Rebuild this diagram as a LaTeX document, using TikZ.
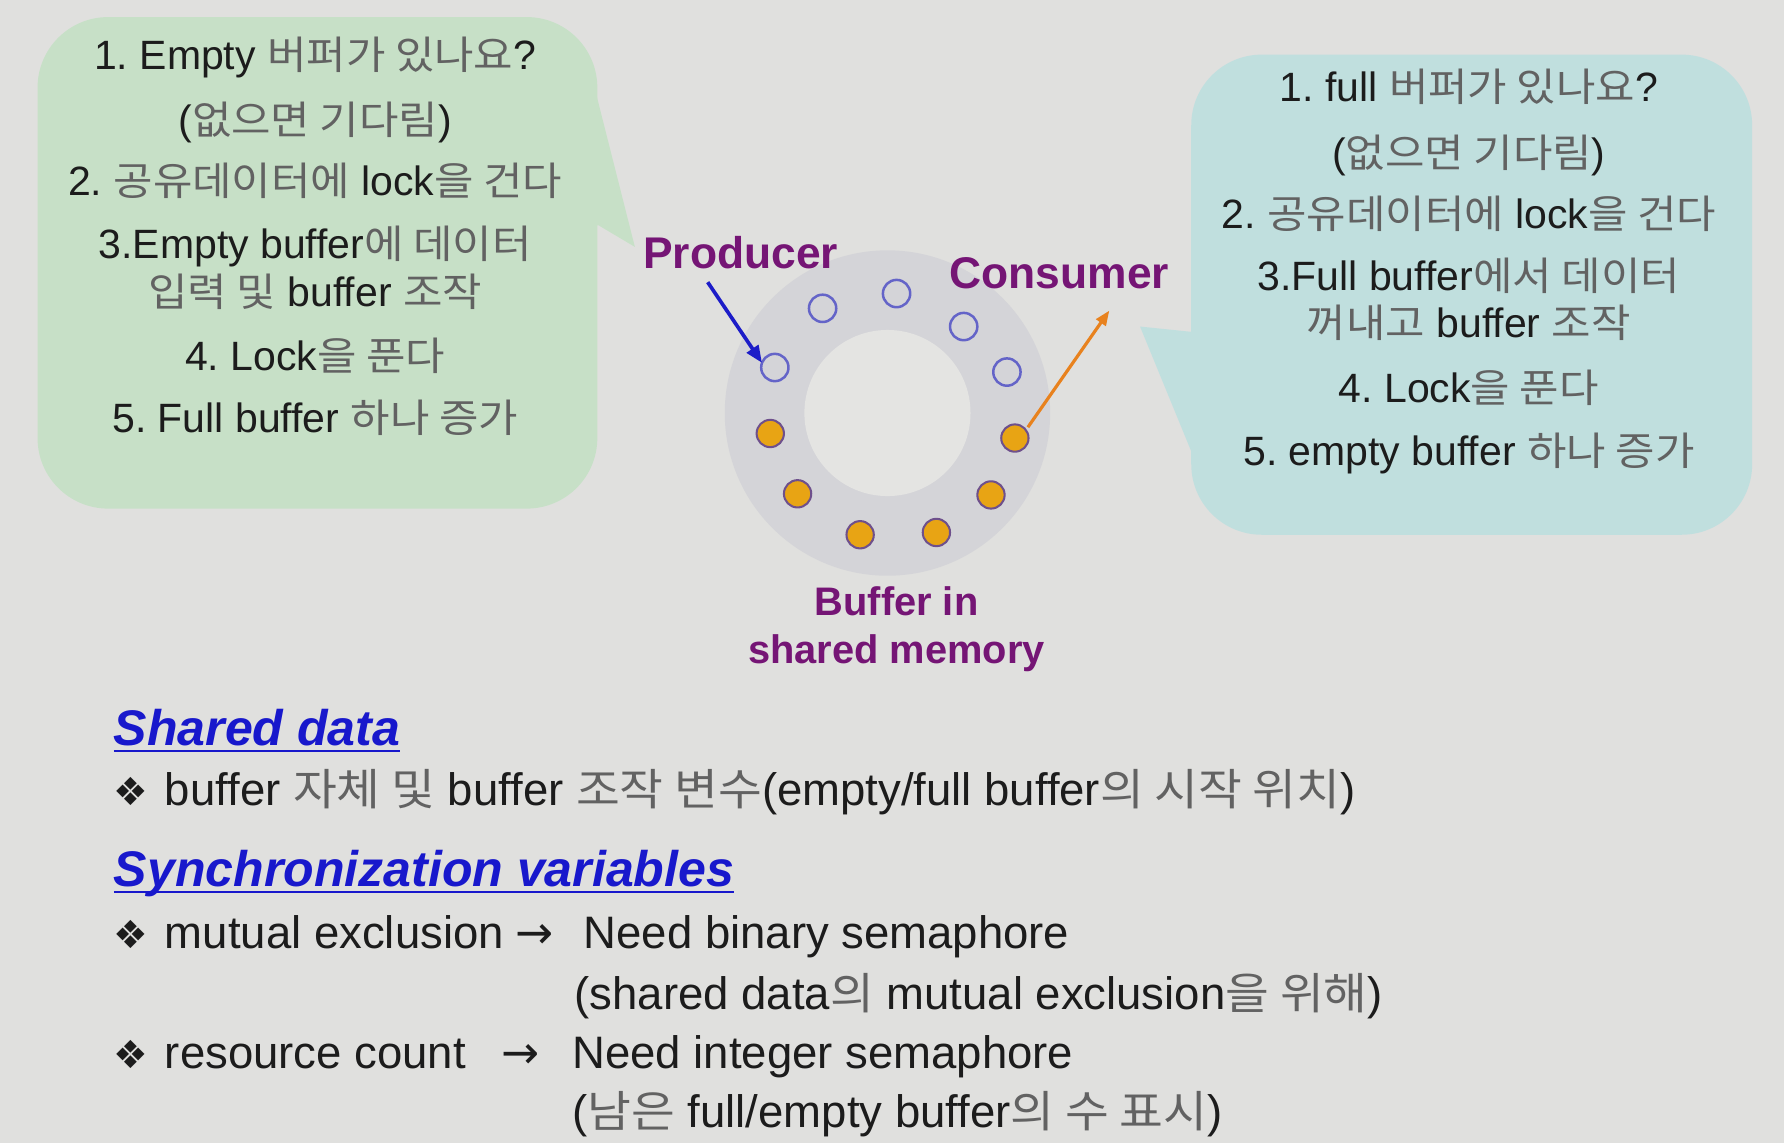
\documentclass[tikz,border=0pt]{standalone}
\usepackage{fontspec}
\setmainfont{Liberation Sans}
\newfontfamily\krfont{Noto Sans CJK KR}[Scale=0.96,FakeStretch=1.09]
\newfontfamily\symfont{DejaVu Sans}
\usetikzlibrary{arrows.meta}
\definecolor{bg}{HTML}{E0E0DE}
\definecolor{greenbox}{HTML}{C7E0C7}
\definecolor{cyanbox}{HTML}{C0DFDE}
\definecolor{ringgray}{HTML}{D4D4D8}
\definecolor{innerc}{HTML}{E4E4E2}
\definecolor{dotblue}{HTML}{6464C8}
\definecolor{dotorange}{HTML}{E8A414}
\definecolor{dotedge}{HTML}{6E508C}
\definecolor{purp}{HTML}{751575}
\definecolor{headblue}{HTML}{1818CC}
\definecolor{arrblue}{HTML}{1C1CC8}
\definecolor{arrorange}{HTML}{E8821E}
\definecolor{txt}{HTML}{1C1C1C}
\definecolor{krgray}{HTML}{626262}
\newcommand{\hangul}[1]{{\krfont\color{krgray}#1}}
\frenchspacing
\begin{document}
\begin{tikzpicture}[x=1pt,y=-1pt,
  every node/.style={inner sep=0pt,outer sep=0pt},
  calltext/.style={anchor=base,text=txt,font=\fontsize{36}{43}\selectfont},
  bodytext/.style={anchor=base west,text=txt,font=\fontsize{40}{48}\selectfont},
  arrowsym/.style={anchor=base west,text=txt,font=\symfont\fontsize{40}{48}\selectfont},
  bulletsym/.style={anchor=base west,text=txt,font=\symfont\fontsize{34}{40}\selectfont},
  heading/.style={anchor=base west,text=headblue,font=\bfseries\itshape\fontsize{44}{52}\selectfont},
  uline/.style={draw=headblue,line width=2.5pt},
  bigpurple/.style={anchor=base,text=purp,font=\bfseries\fontsize{39}{46}\selectfont},
  smallpurple/.style={anchor=base,text=purp,font=\bfseries\fontsize{35}{42}\selectfont},
  emptydot/.style={circle,minimum size=24pt,draw=dotblue,line width=2.2pt,fill=ringgray},
  fulldot/.style={circle,minimum size=24pt,draw=dotedge,line width=1.8pt,fill=dotorange},
  prodarrow/.style={draw=arrblue,line width=3.2pt,-{Triangle[length=15pt,width=12pt]}},
  consarrow/.style={draw=arrorange,line width=2.8pt,-{Triangle[length=13pt,width=10pt]}}
]
\useasboundingbox (0,0) rectangle (1568,1005);
\fill[bg] (0,0) rectangle (1568,1005);

% left callout
\fill[greenbox,rounded corners=62pt] (33,15) rectangle (525,447);
\fill[greenbox] (500,80) -- (518,59) -- (558,217) -- (526,198) -- (500,198) -- cycle;
% right callout
\fill[cyanbox,rounded corners=62pt] (1047,48) rectangle (1540,470);
\fill[cyanbox] (1070,294) -- (1002,287) -- (1050,404) -- (1070,404) -- cycle;

% left callout text
\node[calltext] (l1) at (277,61) {1. Empty \hangul{버퍼가 있나요}?};
\node[calltext] (l2) at (277,118) {(\hangul{없으면 기다림})};
\node[calltext] (l3) at (277,172) {2. \hangul{공유데이터에} lock\hangul{을 건다}};
\node[calltext] (l4) at (277,227) {3.Empty buffer\hangul{에 데이터}};
\node[calltext] (l5) at (277,269) {\hangul{입력 및} buffer \hangul{조작}};
\node[calltext] (l6) at (277,326) {4. Lock\hangul{을 푼다}};
\node[calltext] (l7) at (277,380) {5. Full buffer \hangul{하나 증가}};

% right callout text
\node[calltext] (r1) at (1291,89) {1. full \hangul{버퍼가 있나요}?};
\node[calltext] (r2) at (1291,147) {(\hangul{없으면 기다림})};
\node[calltext] (r3) at (1291,201) {2. \hangul{공유데이터에} lock\hangul{을 건다}};
\node[calltext] (r4) at (1291,255) {3.Full buffer\hangul{에서 데이터}};
\node[calltext] (r5) at (1291,297) {\hangul{꺼내고} buffer \hangul{조작}};
\node[calltext] (r6) at (1291,354) {4. Lock\hangul{을 푼다}};
\node[calltext] (r7) at (1291,409) {5. empty buffer \hangul{하나 증가}};

% ring buffer
\node[circle,fill=ringgray,minimum size=286pt] (ring) at (780,363) {};
\node[circle,fill=innerc,minimum size=146pt] (hole) at (780,363) {};
\node[emptydot] (e1) at (681,323) {};
\node[emptydot] (e2) at (723,271) {};
\node[emptydot] (e3) at (788,258) {};
\node[emptydot] (e4) at (847,287) {};
\node[emptydot] (e5) at (885,327) {};
\node[fulldot] (f1) at (677,381) {};
\node[fulldot] (f2) at (701,434) {};
\node[fulldot] (f3) at (756,470) {};
\node[fulldot] (f4) at (823,468) {};
\node[fulldot] (f5) at (871,435) {};
\node[fulldot] (f6) at (892,385) {};

% labels
\node[bigpurple] (prod) at (651,236) {Producer};
\node[bigpurple] (cons) at (931,254) {Consumer};
\node[smallpurple] (buf1) at (788,541) {Buffer in};
\node[smallpurple] (buf2) at (788,583) {shared memory};

% arrows
\coordinate (pstart) at (622,248);
\coordinate (cend) at (975,273);
\draw[prodarrow] (pstart) -- (e1.160);
\draw[consarrow,shorten <=3pt] (f6.36) -- (cend);

% bottom section
\node[heading] (sd) at (100,655) {Shared data};
\draw[uline] ([yshift=-5pt]sd.base west) -- ([yshift=-5pt]sd.base east);
\node[bulletsym] (b1) at (100,708) {❖};
\node[bodytext] (t1) at (145,708) {buffer \hangul{자체 및} buffer \hangul{조작 변수}(empty/full buffer\hangul{의 시작 위치})};

\node[heading] (sv) at (100,779) {Synchronization variables};
\draw[uline] ([yshift=-5pt]sv.base west) -- ([yshift=-5pt]sv.base east);

\node[bulletsym] (b2) at (100,834) {❖};
\node[bodytext] (t2) at (145,834) {mutual exclusion};
\node[arrowsym] (a2) at (453,834) {→};
\node[bodytext] (n2) at (513,834) {Need binary semaphore};
\node[bodytext] (n2b) at (505,887) {(shared data\hangul{의} mutual exclusion\hangul{을 위해})};

\node[bulletsym] (b3) at (100,939) {❖};
\node[bodytext] (t3) at (145,939) {resource count};
\node[arrowsym] (a3) at (441,939) {→};
\node[bodytext] (n3) at (503,939) {Need integer semaphore};
\node[bodytext] (n3b) at (503,991) {(\hangul{남은} full/empty buffer\hangul{의 수 표시})};
\end{tikzpicture}
\end{document}
